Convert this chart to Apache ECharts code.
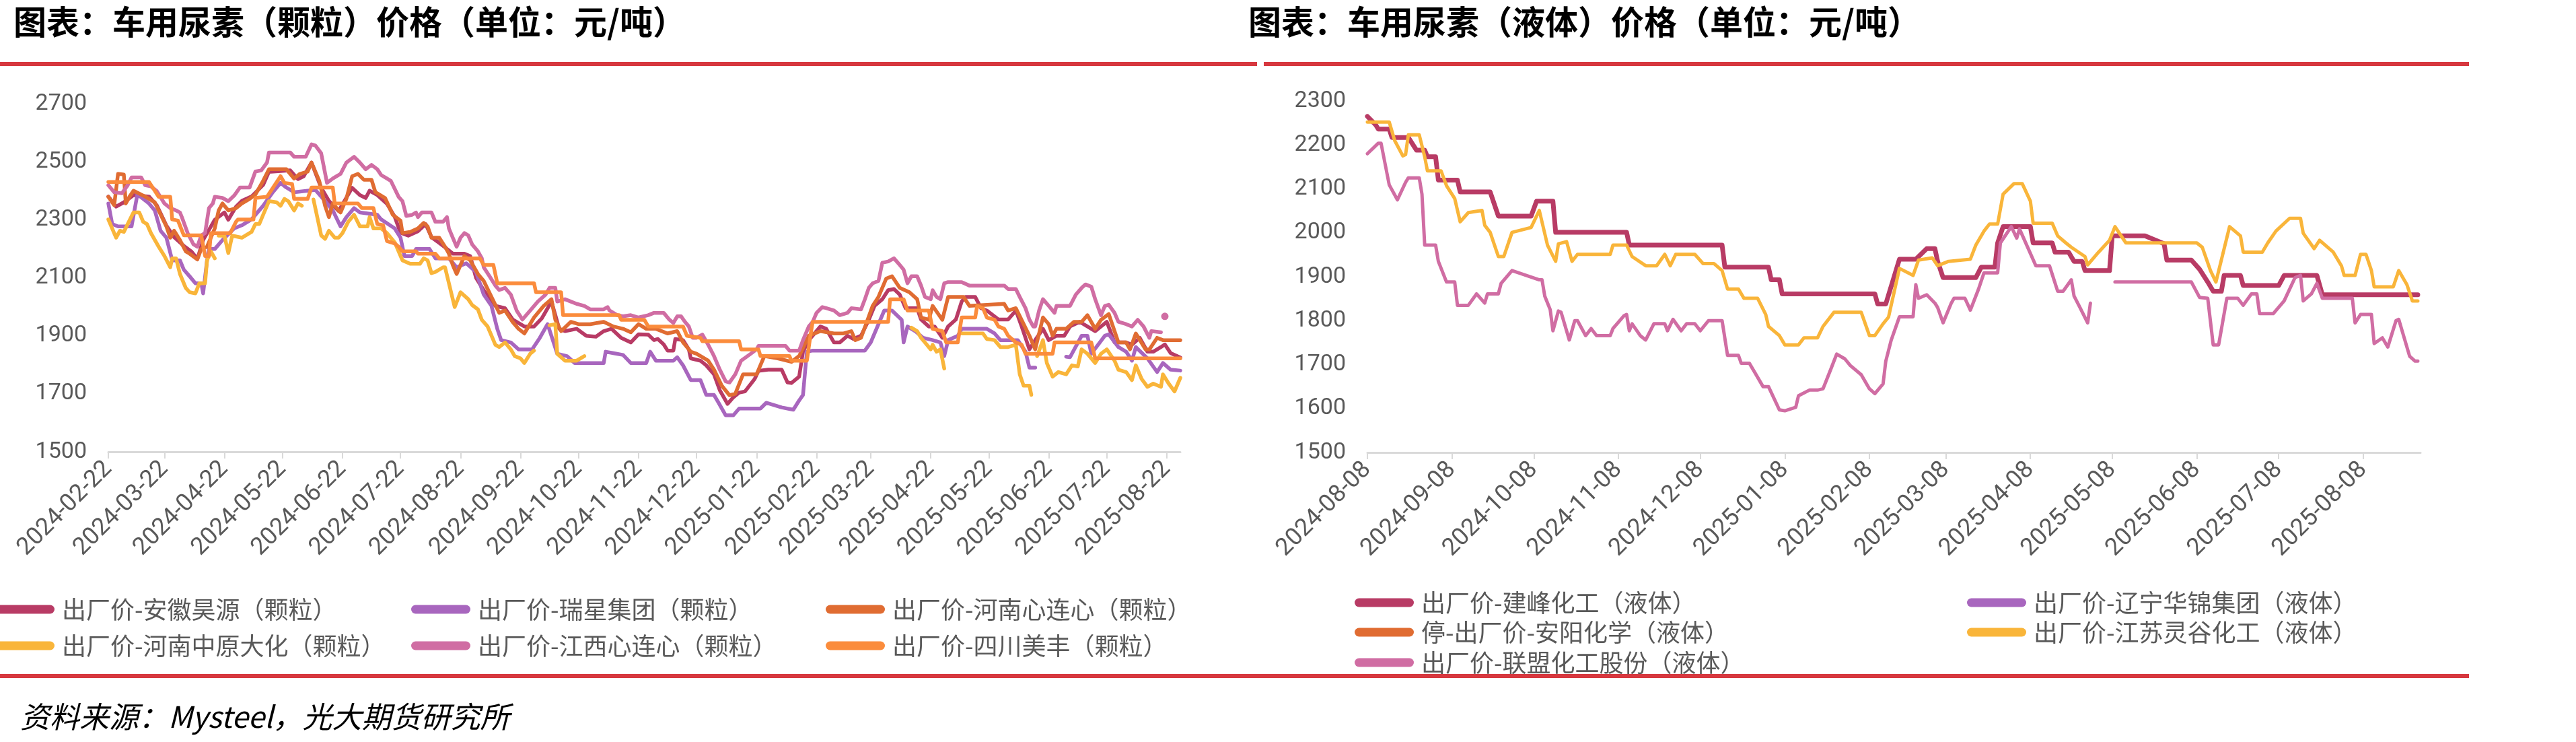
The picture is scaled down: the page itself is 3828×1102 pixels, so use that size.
<!DOCTYPE html>
<html>
<head>
<meta charset="utf-8">
<script src="https://cdn.jsdelivr.net/npm/echarts@6.0.0/dist/echarts.min.js"></script>
<style>
  html, body { margin: 0; padding: 0; background: #fff; }
  #chart { width: 3828px; height: 1102px; }
</style>
</head>
<body>
<div id="chart"></div>
<script>
// tick labels
const leftTicks = ['2024-02-22','2024-03-22','2024-04-22','2024-05-22','2024-06-22','2024-07-22','2024-08-22','2024-09-22','2024-10-22','2024-11-22','2024-12-22','2025-01-22','2025-02-22','2025-03-22','2025-04-22','2025-05-22','2025-06-22','2025-07-22','2025-08-22'];
const rightTicks = ['2024-08-08','2024-09-08','2024-10-08','2024-11-08','2024-12-08','2025-01-08','2025-02-08','2025-03-08','2025-04-08','2025-05-08','2025-06-08','2025-07-08','2025-08-08'];
const leftYTicks = [1500, 1700, 1900, 2100, 2300, 2500, 2700];

// 颗粒
const anhuiHaoyuan = [['2024-02-22',2380],['2024-02-26',2345],['2024-03-01',2360],['2024-03-06',2385],['2024-03-14',2380],['2024-03-18',2350],['2024-03-23',2280],['2024-03-27',2240],['2024-04-01',2210],['2024-04-05',2190],['2024-04-08',2165],['2024-04-11',2230],['2024-04-17',2300],['2024-04-22',2325],['2024-04-24',2300],['2024-04-28',2345],['2024-05-01',2365],['2024-05-06',2380],['2024-05-12',2420],['2024-05-15',2465],['2024-05-26',2470],['2024-05-30',2440],['2024-06-02',2450],['2024-06-06',2497],['2024-06-11',2410],['2024-06-15',2365],['2024-06-20',2330],['2024-06-27',2410],['2024-07-01',2385],['2024-07-04',2375],['2024-07-06',2400],['2024-07-10',2385],['2024-07-15',2355],['2024-07-19',2310],['2024-07-22',2255],['2024-07-26',2245],['2024-07-31',2260],['2024-08-04',2285],['2024-08-07',2240],['2024-08-11',2220],['2024-08-14',2205],['2024-08-18',2183],['2024-08-24',2183],['2024-08-27',2175],['2024-08-30',2100],['2024-09-03',2057],['2024-09-09',2003],['2024-09-14',1995],['2024-09-18',1956],['2024-09-24',1932],['2024-09-29',1932],['2024-10-03',1960],['2024-10-08',2018],['2024-10-12',1924],['2024-10-15',1916],['2024-10-21',1924],['2024-10-26',1900],['2024-10-31',1897],['2024-11-04',1916],['2024-11-08',1924],['2024-11-13',1893],['2024-11-18',1877],['2024-11-22',1905],['2024-11-27',1904],['2024-11-30',1885],['2024-12-02',1889],['2024-12-05',1870],['2024-12-07',1849],['2024-12-10',1849],['2024-12-11',1889],['2024-12-15',1885],['2024-12-18',1853],['2024-12-19',1822],['2024-12-24',1814],['2024-12-27',1798],['2024-12-31',1767],['2025-01-03',1712],['2025-01-07',1665],['2025-01-10',1688],['2025-01-13',1704],['2025-01-16',1708],['2025-01-21',1751],['2025-01-23',1779],['2025-01-28',1783],['2025-02-04',1783],['2025-02-07',1739],['2025-02-09',1737],['2025-02-13',1759],['2025-02-15',1845],['2025-02-18',1885],['2025-02-24',1932],['2025-02-27',1924],['2025-03-03',1877],['2025-03-06',1877],['2025-03-10',1900],['2025-03-13',1889],['2025-03-17',1900],['2025-03-21',1955],['2025-03-24',2003],['2025-03-28',2026],['2025-03-31',2057],['2025-04-03',2061],['2025-04-06',2042],['2025-04-09',1995],['2025-04-15',1995],['2025-04-17',1956],['2025-04-21',1932],['2025-04-24',1932],['2025-04-28',1893],['2025-05-01',1932],['2025-05-05',1956],['2025-05-08',2018],['2025-05-10',2034],['2025-05-15',2034],['2025-05-18',1995],['2025-05-21',1987],['2025-05-27',1956],['2025-06-01',1956],['2025-06-05',1987],['2025-06-08',1932],['2025-06-12',1853],['2025-06-15',1885],['2025-06-19',1924],['2025-06-22',1885],['2025-06-26',1900],['2025-06-30',1900],['2025-07-03',1932],['2025-07-08',1948],['2025-07-12',1932],['2025-07-16',1916],['2025-07-19',1932],['2025-07-22',1948],['2025-07-26',1877],['2025-08-01',1877],['2025-08-04',1869],['2025-08-08',1893],['2025-08-12',1845],['2025-08-15',1845],['2025-08-19',1861],['2025-08-21',1870],['2025-08-24',1840],['2025-08-29',1825]];

const ruixing = [['2024-02-22',2356],['2024-02-24',2285],['2024-02-27',2277],['2024-03-05',2277],['2024-03-08',2387],['2024-03-11',2372],['2024-03-14',2356],['2024-03-17',2332],['2024-03-20',2262],['2024-03-23',2238],['2024-03-26',2160],['2024-03-30',2160],['2024-04-01',2128],['2024-04-04',2105],['2024-04-07',2081],['2024-04-10',2081],['2024-04-11',2046],['2024-04-13',2160],['2024-04-14',2199],['2024-04-17',2199],['2024-04-21',2230],['2024-04-27',2270],['2024-05-01',2281],['2024-05-06',2301],['2024-05-12',2348],['2024-05-17',2395],['2024-05-21',2427],['2024-05-24',2411],['2024-05-28',2395],['2024-06-08',2403],['2024-06-13',2364],['2024-06-17',2332],['2024-06-21',2277],['2024-06-24',2309],['2024-06-28',2340],['2024-07-01',2325],['2024-07-10',2317],['2024-07-12',2301],['2024-07-19',2270],['2024-07-22',2238],['2024-07-24',2175],['2024-07-28',2175],['2024-07-30',2199],['2024-08-06',2199],['2024-08-09',2167],['2024-08-16',2167],['2024-08-20',2136],['2024-08-25',2150],['2024-08-30',2120],['2024-09-03',2042],['2024-09-07',2003],['2024-09-10',1924],['2024-09-12',1885],['2024-09-17',1877],['2024-09-21',1853],['2024-09-28',1853],['2024-10-02',1893],['2024-10-06',1940],['2024-10-11',1838],['2024-10-16',1830],['2024-10-20',1806],['2024-11-04',1806],['2024-11-05',1845],['2024-11-09',1840],['2024-11-14',1834],['2024-11-18',1806],['2024-11-26',1806],['2024-11-28',1845],['2024-12-01',1814],['2024-12-10',1814],['2024-12-12',1826],['2024-12-15',1798],['2024-12-19',1747],['2024-12-24',1747],['2024-12-27',1696],['2024-12-31',1696],['2025-01-02',1673],['2025-01-06',1626],['2025-01-10',1626],['2025-01-13',1649],['2025-01-24',1649],['2025-01-27',1669],['2025-02-04',1653],['2025-02-10',1645],['2025-02-13',1677],['2025-02-15',1696],['2025-02-17',1845],['2025-02-20',1849],['2025-03-19',1849],['2025-03-22',1877],['2025-03-26',1940],['2025-03-29',1987],['2025-04-02',1987],['2025-04-07',1955],['2025-04-08',1877],['2025-04-10',1932],['2025-04-14',1916],['2025-04-18',1893],['2025-04-23',1885],['2025-04-27',1877],['2025-04-29',1830],['2025-05-01',1885],['2025-05-06',1900],['2025-05-08',1924],['2025-05-21',1924],['2025-05-25',1908],['2025-05-28',1885],['2025-06-06',1885],['2025-06-10',1845],['2025-06-12',1790],['2025-06-15',1790],['2025-06-16',null],['2025-07-01',1828],['2025-07-03',1826],['2025-07-09',1900],['2025-07-12',1900],['2025-07-14',1838],['2025-07-21',1900],['2025-07-23',1905],['2025-07-28',1861],['2025-08-01',1845],['2025-08-04',1814],['2025-08-06',1861],['2025-08-12',1822],['2025-08-17',1775],['2025-08-20',1806],['2025-08-24',1783],['2025-08-29',1780]];

const henanXinlianxin = [['2024-02-22',2379],['2024-02-25',2350],['2024-02-27',2458],['2024-03-01',2456],['2024-03-02',2356],['2024-03-04',2380],['2024-03-06',2400],['2024-03-12',2380],['2024-03-17',2360],['2024-03-19',2332],['2024-03-23',2277],['2024-03-25',2238],['2024-03-27',2262],['2024-03-30',2230],['2024-04-02',2191],['2024-04-04',2183],['2024-04-08',2163],['2024-04-10',2199],['2024-04-13',2207],['2024-04-17',2270],['2024-04-19',2332],['2024-04-21',2356],['2024-04-24',2332],['2024-04-28',2340],['2024-05-01',2356],['2024-05-05',2372],['2024-05-08',2387],['2024-05-12',2434],['2024-05-15',2474],['2024-05-24',2474],['2024-05-28',2442],['2024-05-31',2458],['2024-06-04',2466],['2024-06-06',2497],['2024-06-10',2434],['2024-06-13',2348],['2024-06-15',2309],['2024-06-17',2356],['2024-06-20',2332],['2024-06-21',2325],['2024-06-24',2372],['2024-06-27',2450],['2024-06-30',2458],['2024-07-03',2438],['2024-07-07',2438],['2024-07-09',2395],['2024-07-14',2375],['2024-07-18',2317],['2024-07-22',2297],['2024-07-23',2254],['2024-07-27',2258],['2024-07-31',2270],['2024-08-03',2289],['2024-08-05',2277],['2024-08-07',2238],['2024-08-11',2238],['2024-08-14',2207],['2024-08-16',2183],['2024-08-18',2144],['2024-08-20',2113],['2024-08-22',2144],['2024-08-24',2175],['2024-08-27',2160],['2024-08-31',2113],['2024-09-03',2089],['2024-09-07',2034],['2024-09-11',1979],['2024-09-14',1987],['2024-09-18',1947],['2024-09-21',1924],['2024-09-24',1908],['2024-09-29',1963],['2024-10-04',2003],['2024-10-08',2026],['2024-10-10',1955],['2024-10-13',1916],['2024-10-18',1948],['2024-10-22',1940],['2024-10-28',1940],['2024-11-04',1948],['2024-11-09',1932],['2024-11-14',1924],['2024-11-18',1912],['2024-11-22',1940],['2024-11-26',1924],['2024-12-01',1924],['2024-12-07',1908],['2024-12-12',1916],['2024-12-15',1877],['2024-12-19',1845],['2024-12-22',1838],['2024-12-28',1814],['2024-12-31',1783],['2025-01-04',1728],['2025-01-08',1695],['2025-01-11',1700],['2025-01-15',1767],['2025-01-22',1767],['2025-01-26',1830],['2025-02-02',1822],['2025-02-09',1810],['2025-02-13',1830],['2025-02-18',1900],['2025-02-24',1916],['2025-03-03',1908],['2025-03-08',1908],['2025-03-12',1916],['2025-03-14',1885],['2025-03-17',1893],['2025-03-23',2003],['2025-03-26',2034],['2025-03-30',2097],['2025-04-02',2105],['2025-04-06',2065],['2025-04-11',2050],['2025-04-15',2026],['2025-04-17',1963],['2025-04-21',1955],['2025-04-23',2003],['2025-04-28',1955],['2025-05-01',2034],['2025-05-09',2034],['2025-05-12',2003],['2025-05-30',2010],['2025-06-01',1987],['2025-06-05',1995],['2025-06-12',1900],['2025-06-15',1853],['2025-06-19',1963],['2025-06-22',1940],['2025-06-24',1900],['2025-06-26',1924],['2025-07-01',1924],['2025-07-05',1948],['2025-07-09',1948],['2025-07-12',1971],['2025-07-16',1924],['2025-07-19',1955],['2025-07-23',1975],['2025-07-28',1877],['2025-08-01',1877],['2025-08-03',1853],['2025-08-06',1908],['2025-08-11',1853],['2025-08-13',1853],['2025-08-17',1893],['2025-08-20',1885],['2025-08-29',1885]];

const henanZhongyuan = [['2024-02-22',2301],['2024-02-26',2238],['2024-02-28',2262],['2024-03-01',2258],['2024-03-03',2285],['2024-03-06',2325],['2024-03-09',2325],['2024-03-11',2293],['2024-03-13',2285],['2024-03-15',2254],['2024-03-19',2207],['2024-03-22',2175],['2024-03-25',2136],['2024-03-26',2167],['2024-03-28',2167],['2024-03-30',2113],['2024-04-02',2065],['2024-04-04',2050],['2024-04-07',2046],['2024-04-09',2081],['2024-04-12',2081],['2024-04-13',2160],['2024-04-15',2191],['2024-04-17',2167],['2024-04-18',null],['2024-04-19',2245],['2024-04-22',2245],['2024-04-24',2185],['2024-04-26',2245],['2024-05-01',2238],['2024-05-06',2258],['2024-05-08',2285],['2024-05-10',2285],['2024-05-12',2317],['2024-05-15',2364],['2024-05-19',2360],['2024-05-21',2348],['2024-05-23',2372],['2024-05-25',2364],['2024-05-28',2332],['2024-05-30',2356],['2024-06-01',2348],['2024-06-04',null],['2024-06-07',2370],['2024-06-11',2246],['2024-06-13',2234],['2024-06-15',2262],['2024-06-18',2238],['2024-06-20',2238],['2024-06-22',2254],['2024-06-25',2293],['2024-06-28',2317],['2024-07-01',2277],['2024-07-05',2277],['2024-07-06',2309],['2024-07-08',2270],['2024-07-12',2270],['2024-07-15',2254],['2024-07-19',2222],['2024-07-23',2160],['2024-07-27',2148],['2024-08-01',2148],['2024-08-03',2167],['2024-08-05',2160],['2024-08-07',2116],['2024-08-09',2120],['2024-08-13',2136],['2024-08-14',2136],['2024-08-16',2081],['2024-08-18',2026],['2024-08-19',1999],['2024-08-22',2050],['2024-08-26',2026],['2024-08-28',2006],['2024-08-31',1991],['2024-09-02',1955],['2024-09-05',1932],['2024-09-09',1869],['2024-09-11',1861],['2024-09-14',1877],['2024-09-17',1853],['2024-09-19',1830],['2024-09-22',1822],['2024-09-24',1806],['2024-09-27',1838],['2024-09-29',1849],['2024-10-02',null],['2024-10-07',1936],['2024-10-10',1940],['2024-10-11',1838],['2024-10-15',1814],['2024-10-21',1814],['2024-10-25',1830],['2024-10-26',null],['2025-04-12',1928],['2025-04-15',1916],['2025-04-17',1893],['2025-04-19',1877],['2025-04-22',1853],['2025-04-23',1869],['2025-04-25',1845],['2025-04-27',1853],['2025-04-29',1787],['2025-05-02',null],['2025-05-08',1908],['2025-05-19',1908],['2025-05-21',1889],['2025-05-25',1885],['2025-05-28',1861],['2025-06-01',1861],['2025-06-05',1869],['2025-06-07',1767],['2025-06-09',1728],['2025-06-12',1728],['2025-06-13',1696],['2025-06-15',null],['2025-06-16',1830],['2025-06-19',1885],['2025-06-21',1806],['2025-06-24',1759],['2025-06-27',1775],['2025-07-01',1767],['2025-07-04',1798],['2025-07-07',1794],['2025-07-09',1853],['2025-07-12',1838],['2025-07-16',1806],['2025-07-19',1838],['2025-07-22',1853],['2025-07-26',1814],['2025-07-28',1783],['2025-08-01',1775],['2025-08-04',1747],['2025-08-06',1798],['2025-08-09',1751],['2025-08-12',1724],['2025-08-15',1735],['2025-08-19',1724],['2025-08-20',1767],['2025-08-23',1735],['2025-08-26',1708],['2025-08-29',1755]];

const jiangxiXinlianxin = [['2024-02-22',2419],['2024-02-25',2395],['2024-02-29',2391],['2024-03-03',2419],['2024-03-05',2446],['2024-03-10',2446],['2024-03-12',2419],['2024-03-15',2415],['2024-03-18',2399],['2024-03-22',2356],['2024-03-25',2340],['2024-03-28',2332],['2024-03-30',2325],['2024-03-31',2309],['2024-04-03',2254],['2024-04-06',2215],['2024-04-08',2207],['2024-04-10',2246],['2024-04-12',2254],['2024-04-14',2340],['2024-04-16',2356],['2024-04-17',2379],['2024-04-21',2375],['2024-04-24',2364],['2024-04-27',2383],['2024-04-30',2411],['2024-05-05',2411],['2024-05-08',2466],['2024-05-11',2470],['2024-05-14',2497],['2024-05-15',2532],['2024-05-26',2532],['2024-05-28',2517],['2024-06-03',2517],['2024-06-06',2560],['2024-06-08',2556],['2024-06-11',2529],['2024-06-14',2427],['2024-06-17',2442],['2024-06-19',2450],['2024-06-21',2458],['2024-06-24',2497],['2024-06-28',2517],['2024-07-01',2497],['2024-07-04',2474],['2024-07-07',2489],['2024-07-10',2474],['2024-07-12',2454],['2024-07-15',2442],['2024-07-17',2434],['2024-07-21',2379],['2024-07-23',2364],['2024-07-25',2313],['2024-07-28',2317],['2024-07-30',2325],['2024-07-31',2309],['2024-08-02',2325],['2024-08-07',2325],['2024-08-09',2293],['2024-08-13',2293],['2024-08-15',2309],['2024-08-16',2270],['2024-08-18',2238],['2024-08-20',2207],['2024-08-22',2238],['2024-08-24',2254],['2024-08-26',2246],['2024-08-28',2215],['2024-08-31',2191],['2024-09-02',2167],['2024-09-03',2136],['2024-09-06',2105],['2024-09-09',2073],['2024-09-11',2058],['2024-09-14',2065],['2024-09-17',2042],['2024-09-20',1987],['2024-09-23',1956],['2024-09-27',1987],['2024-10-01',2018],['2024-10-05',2042],['2024-10-07',2065],['2024-10-10',2065],['2024-10-11',2018],['2024-10-15',2026],['2024-10-18',2018],['2024-10-21',2010],['2024-10-25',2003],['2024-10-28',1991],['2024-11-04',1991],['2024-11-06',1999],['2024-11-07',1987],['2024-11-11',1971],['2024-11-14',1967],['2024-11-18',1971],['2024-11-22',1963],['2024-11-27',1971],['2024-11-30',1979],['2024-12-05',1979],['2024-12-08',1955],['2024-12-10',1944],['2024-12-12',1967],['2024-12-14',1967],['2024-12-16',1948],['2024-12-18',1932],['2024-12-20',1893],['2024-12-22',1893],['2024-12-25',1904],['2024-12-28',1869],['2024-12-31',1830],['2025-01-03',1783],['2025-01-06',1743],['2025-01-08',1739],['2025-01-11',1767],['2025-01-14',1814],['2025-01-19',1838],['2025-01-22',1853],['2025-01-23',1865],['2025-02-06',1865],['2025-02-08',1849],['2025-02-13',1849],['2025-02-15',1885],['2025-02-18',1932],['2025-02-20',1948],['2025-02-22',1979],['2025-02-25',1999],['2025-02-27',1995],['2025-03-03',1987],['2025-03-06',1971],['2025-03-10',1979],['2025-03-12',1995],['2025-03-17',1991],['2025-03-19',2026],['2025-03-21',2065],['2025-03-23',2081],['2025-03-26',2089],['2025-03-28',2152],['2025-03-31',2156],['2025-04-03',2167],['2025-04-06',2144],['2025-04-08',2128],['2025-04-10',2081],['2025-04-12',2105],['2025-04-15',2105],['2025-04-17',2073],['2025-04-19',2034],['2025-04-22',2026],['2025-04-23',2057],['2025-04-25',2034],['2025-04-27',2026],['2025-04-29',2081],['2025-05-01',2085],['2025-05-08',2085],['2025-05-12',2073],['2025-05-30',2073],['2025-06-01',2061],['2025-06-05',2061],['2025-06-07',2034],['2025-06-10',1995],['2025-06-12',1956],['2025-06-14',1932],['2025-06-15',1932],['2025-06-17',1987],['2025-06-19',2026],['2025-06-22',2003],['2025-06-25',1979],['2025-06-26',2003],['2025-07-03',2003],['2025-07-06',2042],['2025-07-09',2065],['2025-07-11',2077],['2025-07-14',2069],['2025-07-16',2026],['2025-07-19',1971],['2025-07-21',2003],['2025-07-23',2007],['2025-07-26',1979],['2025-07-28',1948],['2025-08-01',1940],['2025-08-04',1932],['2025-08-07',1955],['2025-08-10',1932],['2025-08-13',1893],['2025-08-14',1916],['2025-08-19',1912],['2025-08-20',null],['2025-08-21',1967]];

const sichuanMeifeng = [['2024-02-22',2430],['2024-03-14',2430],['2024-03-17',2400],['2024-03-19',2379],['2024-03-25',2379],['2024-03-26',2301],['2024-03-29',2297],['2024-04-01',2246],['2024-04-10',2246],['2024-04-12',2175],['2024-04-14',2175],['2024-04-15',2254],['2024-04-25',2254],['2024-04-28',2293],['2024-04-29',2301],['2024-05-07',2301],['2024-05-08',2375],['2024-05-14',2379],['2024-05-21',2450],['2024-05-23',2427],['2024-05-27',2423],['2024-05-28',2372],['2024-06-04',2372],['2024-06-06',2411],['2024-06-17',2411],['2024-06-18',2356],['2024-06-30',2356],['2024-07-02',2340],['2024-07-08',2340],['2024-07-10',2285],['2024-07-13',2281],['2024-07-15',2226],['2024-07-19',2218],['2024-07-21',2207],['2024-07-23',2191],['2024-07-30',2191],['2024-07-31',2183],['2024-08-09',2183],['2024-08-11',2167],['2024-09-01',2167],['2024-09-03',2144],['2024-09-08',2144],['2024-09-10',2081],['2024-09-29',2081],['2024-09-30',2050],['2024-10-13',2050],['2024-10-14',1971],['2024-11-12',1971],['2024-11-13',1955],['2024-11-25',1955],['2024-11-27',1932],['2024-12-15',1932],['2024-12-17',1900],['2024-12-24',1893],['2024-12-25',1881],['2025-01-13',1881],['2025-01-14',1853],['2025-01-23',1853],['2025-01-24',1830],['2025-02-08',1830],['2025-02-09',1814],['2025-02-17',1814],['2025-02-19',1908],['2025-02-20',1948],['2025-03-31',1948],['2025-04-01',2026],['2025-04-08',2026],['2025-04-10',1987],['2025-04-21',1987],['2025-04-23',1924],['2025-04-28',1916],['2025-04-30',1877],['2025-05-06',1877],['2025-05-08',1963],['2025-05-15',1963],['2025-05-16',2003],['2025-05-19',1995],['2025-05-21',1963],['2025-05-25',1955],['2025-05-27',1932],['2025-05-30',1924],['2025-06-01',1900],['2025-06-05',1877],['2025-06-08',1869],['2025-06-10',1838],['2025-06-24',1838],['2025-06-25',1877],['2025-07-14',1877],['2025-07-16',1822],['2025-08-29',1822]];

// 液体
const jianfeng = [['2024-08-08',2265],['2024-08-11',2246],['2024-08-12',2236],['2024-08-16',2236],['2024-08-17',2217],['2024-08-23',2217],['2024-08-26',2188],['2024-08-29',2188],['2024-08-30',2173],['2024-09-02',2173],['2024-09-03',2120],['2024-09-10',2120],['2024-09-11',2093],['2024-09-22',2093],['2024-09-25',2038],['2024-10-07',2038],['2024-10-09',2072],['2024-10-15',2072],['2024-10-16',2001],['2024-11-11',2001],['2024-11-12',1972],['2024-12-16',1972],['2024-12-17',1922],['2025-01-02',1922],['2025-01-03',1893],['2025-01-06',1893],['2025-01-07',1861],['2025-02-10',1861],['2025-02-11',1838],['2025-02-14',1838],['2025-02-19',1940],['2025-02-25',1940],['2025-03-01',1964],['2025-03-04',1964],['2025-03-05',1935],['2025-03-07',1898],['2025-03-19',1898],['2025-03-21',1922],['2025-03-26',1922],['2025-03-27',1977],['2025-03-29',2014],['2025-04-08',2014],['2025-04-09',1977],['2025-04-16',1977],['2025-04-17',1956],['2025-04-22',1956],['2025-04-24',1935],['2025-04-27',1935],['2025-04-28',1914],['2025-05-07',1914],['2025-05-08',1993],['2025-05-20',1993],['2025-05-27',1975],['2025-05-28',1938],['2025-06-06',1938],['2025-06-09',1917],['2025-06-12',1888],['2025-06-14',1867],['2025-06-17',1867],['2025-06-18',1903],['2025-06-24',1903],['2025-06-25',1880],['2025-07-08',1880],['2025-07-10',1903],['2025-07-22',1903],['2025-07-24',1859],['2025-08-28',1859]];
const liaoningHuajin = [];
const anyangHuaxue = [];
const jiangsuLinggu = [['2024-08-08',2252],['2024-08-16',2252],['2024-08-18',2210],['2024-08-21',2175],['2024-08-22',2178],['2024-08-23',2223],['2024-08-27',2223],['2024-08-29',2173],['2024-08-30',2141],['2024-09-04',2141],['2024-09-06',2107],['2024-09-09',2078],['2024-09-11',2025],['2024-09-14',2046],['2024-09-19',2051],['2024-09-20',2017],['2024-09-22',2001],['2024-09-25',1946],['2024-09-27',1946],['2024-09-30',2001],['2024-10-07',2012],['2024-10-10',2051],['2024-10-13',1972],['2024-10-16',1935],['2024-10-17',1975],['2024-10-20',1980],['2024-10-22',1935],['2024-10-24',1951],['2024-11-05',1951],['2024-11-06',1972],['2024-11-11',1972],['2024-11-13',1946],['2024-11-18',1925],['2024-11-22',1925],['2024-11-25',1951],['2024-11-27',1925],['2024-11-29',1951],['2024-12-06',1951],['2024-12-09',1930],['2024-12-13',1930],['2024-12-16',1914],['2024-12-18',1872],['2024-12-22',1872],['2024-12-24',1851],['2024-12-29',1851],['2025-01-01',1814],['2025-01-02',1787],['2025-01-06',1766],['2025-01-08',1745],['2025-01-13',1745],['2025-01-15',1761],['2025-01-20',1761],['2025-01-22',1787],['2025-01-26',1819],['2025-02-05',1819],['2025-02-08',1766],['2025-02-10',1766],['2025-02-13',1793],['2025-02-15',1808],['2025-02-19',1919],['2025-02-24',1903],['2025-02-26',1938],['2025-03-03',1943],['2025-03-05',1925],['2025-03-09',1935],['2025-03-17',1940],['2025-03-19',1972],['2025-03-22',2004],['2025-03-24',2020],['2025-03-27',2020],['2025-03-29',2088],['2025-04-02',2112],['2025-04-05',2112],['2025-04-08',2072],['2025-04-09',2022],['2025-04-16',2022],['2025-04-18',1993],['2025-04-21',1977],['2025-04-23',1967],['2025-04-28',1946],['2025-04-29',1927],['2025-05-03',1956],['2025-05-07',1983],['2025-05-09',2014],['2025-05-13',1977],['2025-06-08',1977],['2025-06-10',1967],['2025-06-13',1914],['2025-06-15',1888],['2025-06-20',2014],['2025-06-24',1993],['2025-06-25',1956],['2025-07-02',1956],['2025-07-04',1977],['2025-07-07',2004],['2025-07-12',2033],['2025-07-16',2033],['2025-07-17',1999],['2025-07-21',1964],['2025-07-23',1983],['2025-07-28',1956],['2025-07-31',1925],['2025-08-01',1903],['2025-08-05',1903],['2025-08-07',1951],['2025-08-09',1951],['2025-08-11',1914],['2025-08-12',1877],['2025-08-19',1877],['2025-08-21',1914],['2025-08-24',1882],['2025-08-26',1845],['2025-08-28',1845]];
const lianmeng = [['2024-08-08',2180],['2024-08-12',2204],['2024-08-13',2204],['2024-08-16',2109],['2024-08-19',2075],['2024-08-22',2115],['2024-08-23',2125],['2024-08-27',2125],['2024-08-28',2088],['2024-08-29',1972],['2024-09-02',1972],['2024-09-03',1935],['2024-09-06',1888],['2024-09-09',1888],['2024-09-10',1835],['2024-09-14',1835],['2024-09-17',1861],['2024-09-20',1840],['2024-09-21',1861],['2024-09-25',1861],['2024-09-26',1885],['2024-09-30',1914],['2024-10-10',1893],['2024-10-11',1893],['2024-10-12',1856],['2024-10-14',1825],['2024-10-15',1777],['2024-10-17',1822],['2024-10-18',1819],['2024-10-21',1756],['2024-10-23',1800],['2024-10-24',1800],['2024-10-27',1766],['2024-10-29',1782],['2024-10-31',1766],['2024-11-05',1766],['2024-11-06',1782],['2024-11-10',1811],['2024-11-11',1814],['2024-11-12',1777],['2024-11-13',1793],['2024-11-16',1766],['2024-11-18',1756],['2024-11-21',1793],['2024-11-25',1793],['2024-11-26',1777],['2024-11-28',1803],['2024-12-01',1777],['2024-12-03',1793],['2024-12-06',1793],['2024-12-08',1777],['2024-12-11',1800],['2024-12-16',1800],['2024-12-18',1721],['2024-12-22',1721],['2024-12-23',1703],['2024-12-26',1703],['2024-12-28',1682],['2024-12-31',1650],['2025-01-02',1650],['2025-01-06',1597],['2025-01-08',1595],['2025-01-12',1603],['2025-01-13',1629],['2025-01-17',1642],['2025-01-20',1642],['2025-01-22',1645],['2025-01-25',1692],['2025-01-27',1724],['2025-01-30',1713],['2025-02-01',1698],['2025-02-05',1677],['2025-02-08',1645],['2025-02-10',1634],['2025-02-13',1656],['2025-02-14',1708],['2025-02-16',1756],['2025-02-19',1809],['2025-02-24',1809],['2025-02-25',1882],['2025-02-26',1851],['2025-03-01',1859],['2025-03-04',1840],['2025-03-05',1830],['2025-03-07',1795],['2025-03-10',1840],['2025-03-11',1851],['2025-03-15',1851],['2025-03-17',1824],['2025-03-20',1872],['2025-03-22',1909],['2025-03-27',1909],['2025-03-28',1977],['2025-04-01',2014],['2025-04-03',1988],['2025-04-04',2009],['2025-04-10',1925],['2025-04-15',1925],['2025-04-18',1867],['2025-04-20',1867],['2025-04-23',1893],['2025-04-24',1856],['2025-04-26',1832],['2025-04-29',1795],['2025-04-30',1840],['2025-05-01',null],['2025-05-09',1888],['2025-06-06',1888],['2025-06-09',1853],['2025-06-12',1851],['2025-06-14',1745],['2025-06-16',1745],['2025-06-19',1851],['2025-06-23',1851],['2025-06-25',1835],['2025-06-28',1861],['2025-06-30',1861],['2025-07-01',1816],['2025-07-06',1816],['2025-07-10',1845],['2025-07-14',1898],['2025-07-16',1903],['2025-07-17',1845],['2025-07-20',1861],['2025-07-22',1885],['2025-07-24',1851],['2025-08-04',1851],['2025-08-05',1795],['2025-08-07',1814],['2025-08-11',1814],['2025-08-12',1748],['2025-08-15',1761],['2025-08-17',1740],['2025-08-20',1800],['2025-08-21',1803],['2025-08-25',1719],['2025-08-27',1708],['2025-08-28',1708]];

const CJK = '"Noto Sans CJK SC", "Noto Sans", sans-serif';
const NUM = 'Roboto, "Noto Sans", sans-serif';
const GRAY = '#595959';
const C_ROSE = '#b83b65', C_PURPLE = '#a866be', C_RED_ORANGE = '#e06c32',
      C_YELLOW = '#f9b53a', C_PINK = '#d06da3', C_ORANGE = '#fb8c3c';

function lineSeries(name, data, color, idx, width) {
  return {
    name: name,
    type: 'line',
    xAxisIndex: idx,
    yAxisIndex: idx,
    data: data,
    color: color,
    symbol: 'none',
    showSymbol: true,
    showAllSymbol: true,
    connectNulls: false,
    lineStyle: { width: width, color: color, cap: 'round', join: 'round' },
    emphasis: { disabled: true },
    z: 2
  };
}

const stadium = 'path://M6.5,0 L81.5,0 A6.5,6.5 0 0 1 81.5,13 L6.5,13 A6.5,6.5 0 0 1 6.5,0 Z';
function legendItem(name, left, top) {
  return {
    data: [name],
    left: left,
    top: top,
    icon: stadium,
    itemWidth: 88,
    itemHeight: 13,
    textStyle: { fontSize: 36, color: GRAY, fontFamily: CJK, padding: [0, 0, 0, 6] },
    selectedMode: false
  };
}

function timeXAxis(idx, min, max, ticks) {
  return {
    type: 'time',
    gridIndex: idx,
    min: min,
    max: max,
    splitLine: { show: false },
    axisLine: { lineStyle: { color: '#d9d9d9', width: 3 } },
    axisTick: { show: true, customValues: ticks, length: 10, lineStyle: { color: '#d9d9d9', width: 2 } },
    axisLabel: {
      customValues: ticks,
      formatter: '{yyyy}-{MM}-{dd}',
      rotate: 45,
      margin: 20,
      fontSize: 36,
      color: GRAY,
      fontFamily: NUM,
      hideOverlap: false
    }
  };
}

function plainNumber(v) {
  return String(v);
}

const chart = echarts.init(document.getElementById('chart'), null, { renderer: 'canvas' });

const s1 = '出厂价-安徽昊源（颗粒）', s2 = '出厂价-瑞星集团（颗粒）', s3 = '出厂价-河南心连心（颗粒）',
      s4 = '出厂价-河南中原大化（颗粒）', s5 = '出厂价-江西心连心（颗粒）', s6 = '出厂价-四川美丰（颗粒）';
const r1 = '出厂价-建峰化工（液体）', r2 = '出厂价-辽宁华锦集团（液体）', r3 = '停-出厂价-安阳化学（液体）',
      r4 = '出厂价-江苏灵谷化工（液体）', r5 = '出厂价-联盟化工股份（液体）';

const jiangxiData = jiangxiXinlianxin.map(function (p, i) {
  // last one is a lone point, drawn as a dot
  if (i === jiangxiXinlianxin.length - 1) {
    return { value: p, symbol: 'circle', symbolSize: 11, itemStyle: { color: C_PINK } };
  }
  return p;
});
const jiangxiSeries = lineSeries(s5, jiangxiData, C_PINK, 0, 5.5);

chart.setOption({
  animation: false,
  backgroundColor: '#ffffff',
  grid: [
    { left: 161, top: 154, width: 1593, height: 517 },
    { left: 2032, top: 150, width: 1565, height: 522 }
  ],
  xAxis: [
    timeXAxis(0, '2024-02-22', '2025-08-29', leftTicks),
    timeXAxis(1, '2024-08-08', '2025-08-29', rightTicks)
  ],
  yAxis: [
    {
      type: 'value', gridIndex: 0, min: 1500, max: 2700,
      splitLine: { show: false }, axisLine: { show: false }, axisTick: { show: false },
      axisLabel: { customValues: leftYTicks, formatter: plainNumber, fontSize: 34, color: GRAY, fontFamily: NUM, margin: 32 }
    },
    {
      type: 'value', gridIndex: 1, min: 1500, max: 2300, interval: 100,
      splitLine: { show: false }, axisLine: { show: false }, axisTick: { show: false },
      axisLabel: { formatter: plainNumber, fontSize: 34, color: GRAY, fontFamily: NUM, margin: 32 }
    }
  ],
  legend: [
    legendItem(s1, -12, 882), legendItem(s2, 606, 882), legendItem(s3, 1222, 882),
    legendItem(s4, -12, 936), legendItem(s5, 606, 936), legendItem(s6, 1222, 936),
    legendItem(r1, 2008, 872), legendItem(r2, 2918, 872),
    legendItem(r3, 2008, 916), legendItem(r4, 2918, 916),
    legendItem(r5, 2008, 961)
  ],
  series: [
    lineSeries(s1, anhuiHaoyuan, C_ROSE, 0, 5.5),
    lineSeries(s2, ruixing, C_PURPLE, 0, 5.5),
    lineSeries(s3, henanXinlianxin, C_RED_ORANGE, 0, 5.5),
    lineSeries(s4, henanZhongyuan, C_YELLOW, 0, 5.5),
    jiangxiSeries,
    lineSeries(s6, sichuanMeifeng, C_ORANGE, 0, 5.5),
    lineSeries(r1, jianfeng, C_ROSE, 1, 7),
    lineSeries(r2, liaoningHuajin, C_PURPLE, 1, 5),
    lineSeries(r3, anyangHuaxue, C_RED_ORANGE, 1, 5),
    lineSeries(r4, jiangsuLinggu, C_YELLOW, 1, 5),
    lineSeries(r5, lianmeng, C_PINK, 1, 5)
  ],
  graphic: [
    { type: 'text', left: 20, top: 8, style: { text: '图表：车用尿素（颗粒）价格（单位：元/吨）', font: 'bold 49px ' + CJK, fill: '#000' } },
    { type: 'text', left: 1855, top: 8, style: { text: '图表：车用尿素（液体）价格（单位：元/吨）', font: 'bold 49px ' + CJK, fill: '#000' } },
    { type: 'rect', shape: { x: 0, y: 92, width: 1868, height: 6 }, style: { fill: '#d7383f' } },
    { type: 'rect', shape: { x: 1878, y: 92, width: 1791, height: 6 }, style: { fill: '#d7383f' } },
    { type: 'rect', shape: { x: 0, y: 1001, width: 3669, height: 6 }, style: { fill: '#d7383f' } },
    { type: 'text', left: 30, top: 1042, style: { text: '资料来源：Mysteel，光大期货研究所', font: 'italic 44px ' + CJK, fill: '#000' } }
  ]
});
</script>
</body>
</html>
